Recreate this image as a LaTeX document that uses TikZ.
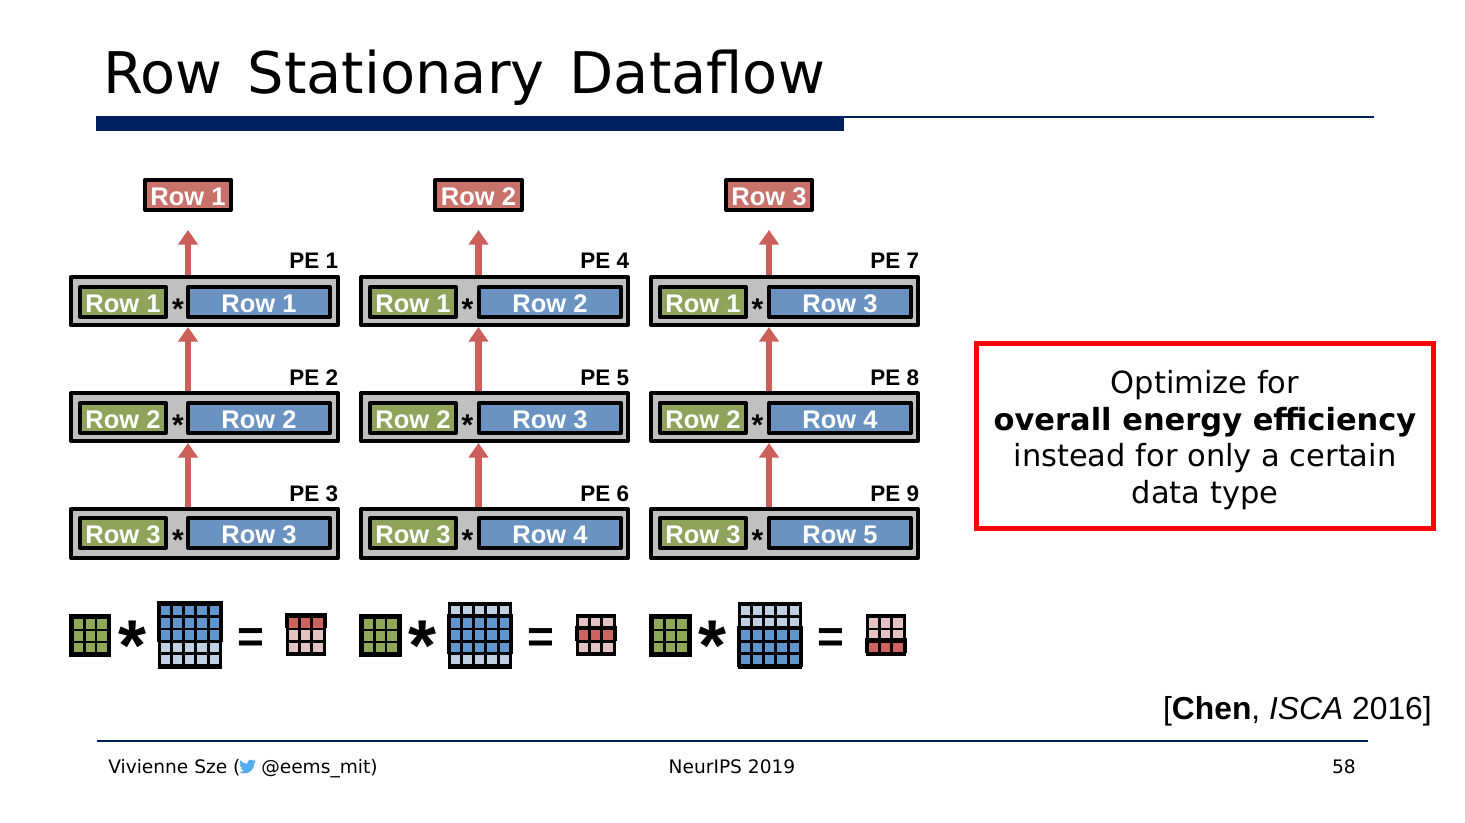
\documentclass[tikz,border=0pt]{standalone}
\usepackage{fontspec}
\setmainfont{Liberation Sans}
\newfontfamily\verd{DejaVu Sans}
\usetikzlibrary{arrows.meta}
\definecolor{navy}{HTML}{002060}
\definecolor{redarrow}{HTML}{CD5F5B}
\definecolor{outred}{HTML}{C9716B}
\definecolor{pegray}{HTML}{C0C0C0}
\definecolor{olive}{HTML}{8FA35B}
\definecolor{steel}{HTML}{6A93C2}
\definecolor{celldark}{HTML}{5F96CE}
\definecolor{celllight}{HTML}{C0D0E3}
\definecolor{cellgreen}{HTML}{8FA857}
\definecolor{cellred}{HTML}{CD635E}
\definecolor{cellpink}{HTML}{E3C3C2}
\definecolor{birdblue}{HTML}{55ACEE}
\newcommand\fs[1]{\pgfmathsetmacro\fsz{#1*0.75}\fontsize{\fsz}{\fsz}\selectfont}
% \boxnode{name}{x1}{y1}{x2}{y2}{style}{text}: outer edges in pixels, 4 px border
\newcommand\boxnode[7]{%
  \pgfmathsetmacro\bw{((#4)-(#2)-4)*0.75}%
  \pgfmathsetmacro\bh{((#5)-(#3)-4)*0.75}%
  \node[rowbox,#6,minimum width=\bw pt,minimum height=\bh pt] (#1) at ({((#2)+(#4))/2},{((#3)+(#5))/2}) {#7};}
% \cellgrid{x}{y}{pitch x}{pitch y}{size x}{size y}{cols}{rows}{colour}
\newcommand\cellgrid[9]{%
  \foreach \ci in {1,...,#7}{\foreach \cj in {1,...,#8}{%
    \fill[#9] ({#1+(\ci-1)*#3},{#2+(\cj-1)*#4}) rectangle ++(#5,#6);}}}
\tikzset{
  x=0.75pt,y=-0.75pt,
  rowbox/.style={draw=black,line width=3pt,line join=round,inner sep=0pt,text=white,text height=16pt,text depth=0pt,font=\fs{25.5}\bfseries},
  flow/.style={draw=redarrow,line width=5.2pt,-{Triangle[width=14.5pt,length=11pt]}},
  pelabel/.style={anchor=base east,inner sep=0pt,font=\fs{22.5}\bfseries},
  starlabel/.style={inner sep=0pt,anchor=base,font=\fs{30}\bfseries},
  bigstar/.style={inner sep=0pt,anchor=base,font=\fs{72}\bfseries},
  bigeq/.style={inner sep=0pt,anchor=base,font=\fs{46}\bfseries},
  foot/.style={inner sep=0pt,anchor=base west,font=\verd\fs{18.6}},
  msg/.style={inner sep=0pt,anchor=base,font=\verd\fs{30.5}},
}
\begin{document}
\begin{tikzpicture}
\useasboundingbox (0,0) rectangle (1465,822);
\fill[white] (0,0) rectangle (1465,822);
% title
\node[inner sep=0pt,anchor=base west,font=\verd\fs{57.4}] (title) at (103,93.5) {Row\hspace{0.12em} Stationary\hspace{0.12em} Dataflow};
\fill[navy] (96,116) rectangle (844,131);
\fill[navy] (844,116) rectangle (1374,118);
% columns
\foreach \c/\ox/\ow/\ol/\ra/\rb/\rc/\ia/\ib/\ic in {
   1/0/0/0/1/2/3/1/2/3,
   2/290/1/0/2/3/4/4/5/6,
   3/580/1/1/3/4/5/7/8/9}{
  \boxnode{out\c}{143+\ox+\ol}{178}{233+\ox+\ow}{212}{fill=outred}{Row \c}
  \foreach \r/\ty/\th/\io/\rr/\ii/\ly in {1/275/52/10/\ra/\ia/268,2/391/52/10/\rb/\ib/385,3/507/53/9/\rc/\ic/501}{
    \boxnode{pe\c\r}{69+\ox}{\ty}{340+\ox}{\ty+\th}{fill=pegray}{}
    \boxnode{a\c\r}{78+\ox}{\ty+\io}{168+\ox}{\ty+\io+34}{fill=olive}{Row \r}
    \boxnode{b\c\r}{186+\ox+\ow}{\ty+\io}{332+\ox+\ow}{\ty+\io+34}{fill=steel}{Row \rr}
    \node[starlabel] (s\c\r) at ({178+\ox-0.5*\ow},{\ty+\io+34.5}) {*};
    \node[pelabel] (l\c\r) at ({338.5+\ox+\ow},\ly) {PE \ii};
  }
  \draw[flow,shorten >=13.5pt] (pe\c1.north -| out\c) -- (out\c.south);
  \draw[flow] (pe\c2.north -| out\c) -- (pe\c1.south -| out\c);
  \draw[flow] (pe\c3.north -| out\c) -- (pe\c2.south -| out\c);
  % equation
  \fill[black] (69+\ox,614) rectangle (111+\ox+\ow,657);
  \cellgrid{74+\ox}{619.3}{11.7}{11.7}{9.3}{9.6}{3}{3}{cellgreen}
  \node[bigstar] (mul\c) at ({132.5+\ox},{670}) {*};
  \fill[black] ({158+\ox},602) rectangle ({222+\ox},669);
  \cellgrid{160.7+\ox}{605.7}{12.2}{12.3}{9.3}{9.5}{5}{5}{celllight}
  \pgfmathtruncatemacro\dtop{\c-1}
  \fill[black] ({157+\ox},{602+\dtop*12.3-0.7}) rectangle ({223+\ox},{602+\dtop*12.3+40});
  \cellgrid{160.7+\ox}{605.7+\dtop*12.3}{12.2}{12.3}{9.3}{9.5}{5}{3}{celldark}
  \node[bigeq] (eq\c) at ({250.5+\ox+\ow*0.5},{652}) {=};
  \fill[black] ({286+\ox},614) rectangle ({326+\ox},656);
  \cellgrid{288.7+\ox}{618}{12.3}{12.4}{9.3}{9.6}{3}{3}{cellpink}
  \fill[black] ({285+\ox},{614+\dtop*12.4-0.7}) rectangle ({327+\ox},{614+\dtop*12.4+14.3});
  \cellgrid{288.7+\ox}{618+\dtop*12.4}{12.3}{12.4}{9.3}{9.6}{3}{1}{cellred}
}
% message box
\node[draw=red,line width=3.75pt,inner sep=0pt,minimum width=342.75pt,minimum height=138.75pt] (box) at (1205,436) {};
\node[msg] (m1) at (1205,393) {Optimize for};
\node[msg] (m2) at (1205,430) {\bfseries overall energy efficiency};
\node[msg] (m3) at (1205,466) {instead for only a certain};
\node[msg] (m4) at (1205,503) {data type};
% citation
\node[inner sep=0pt,anchor=base east,font=\fs{31.8}] (cite) at (1432,719) {[\textbf{Chen}, \textit{ISCA} 2016]};
% footer
\fill[navy] (97,740) rectangle (1368,741.5);
\node[foot] (f1) at (108,773) {Vivienne Sze (};
\begin{scope}[shift={(239,758)},scale=0.71]
\fill[birdblue] (24,4.6) .. controls (23.1,5) and (22.1,5.2) .. (21.1,5.35)
 .. controls (22.1,4.7) and (22.9,3.8) .. (23.3,2.6)
 .. controls (22.3,3.2) and (21.3,3.6) .. (20.2,3.8)
 .. controls (18.6,2) and (15.8,1.8) .. (13.9,3.4)
 .. controls (12.1,4.8) and (11.4,6.3) .. (11.8,8.3)
 .. controls (7.7,8.1) and (4.1,6.1) .. (1.6,3.2)
 .. controls (0.3,5.3) and (0.9,8.3) .. (3.2,9.7)
 .. controls (2.4,9.7) and (1.6,9.5) .. (0.9,9.1)
 -- (0.9,9.2) .. controls (0.9,11.5) and (2.5,13.5) .. (4.9,14)
 .. controls (4.2,14.2) and (3.4,14.2) .. (2.7,14.1)
 .. controls (3.3,16) and (5.1,17.4) .. (7.3,17.5)
 .. controls (5.3,19.1) and (2.6,19.9) .. (0,19.5)
 .. controls (2.2,21) and (4.9,21.7) .. (7.6,21.7)
 .. controls (16.6,21.7) and (21.5,14.2) .. (21.5,7.7)
 .. controls (21.5,7.5) and (21.5,7.3) .. (21.5,7.1)
 .. controls (22.5,6.4) and (23.3,5.6) .. (24,4.6) -- cycle;
\end{scope}
\node[foot] (f2) at (261,773) {@eems\_mit)};
\node[inner sep=0pt,anchor=base,font=\verd\fs{18.6}] (f3) at (732,773) {NeurIPS 2019};
\node[inner sep=0pt,anchor=base east,font=\verd\fs{18.6}] (f4) at (1356,773) {58};
\end{tikzpicture}
\end{document}
